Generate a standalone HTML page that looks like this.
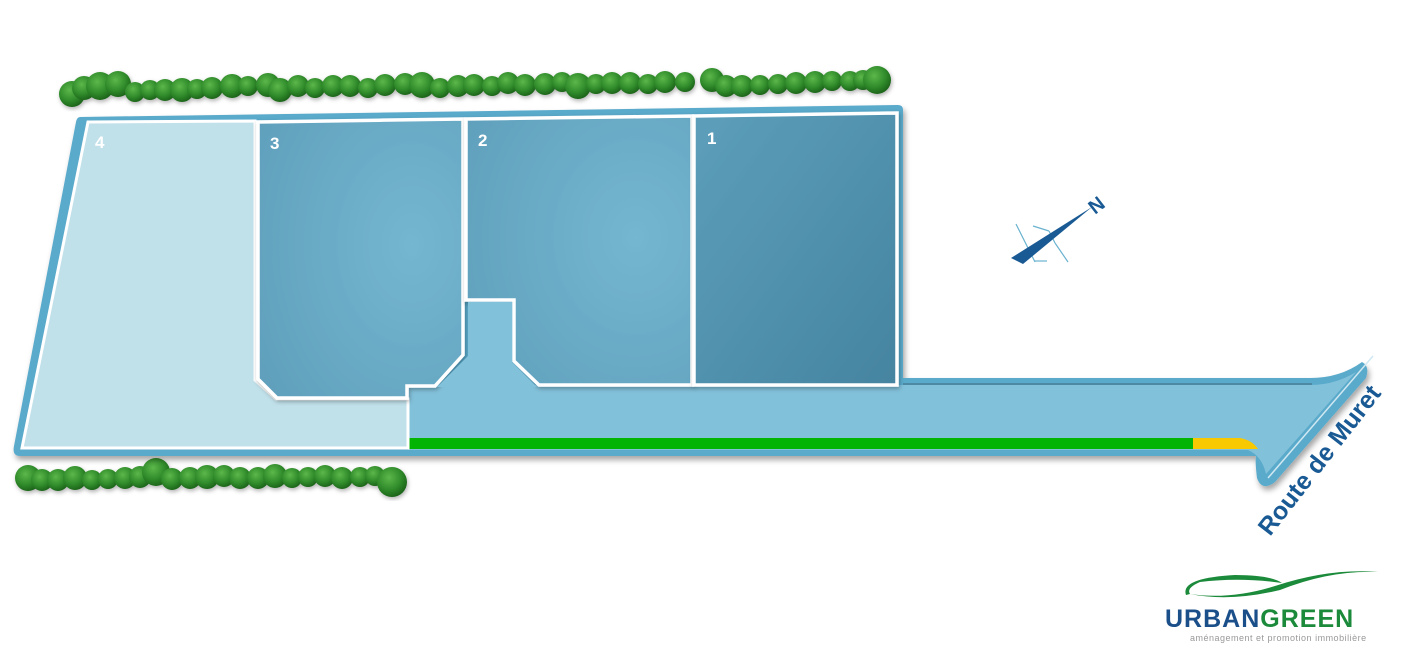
<!DOCTYPE html>
<html><head><meta charset="utf-8"><style>
html,body{margin:0;padding:0;background:#fff;width:1410px;height:652px;overflow:hidden}
svg{display:block}
</style></head><body>
<svg width="1410" height="652" viewBox="0 0 1410 652" xmlns="http://www.w3.org/2000/svg">
<defs>
<radialGradient id="lot" cx="0.75" cy="0.45" r="0.9">
<stop offset="0" stop-color="#74b6d0"/><stop offset="1" stop-color="#5f9fbb"/>
</radialGradient>
<linearGradient id="lot1" x1="0" y1="0" x2="1" y2="1">
<stop offset="0" stop-color="#5d9fbb"/><stop offset="1" stop-color="#4584a0"/>
</linearGradient>
<radialGradient id="tree" cx="0.4" cy="0.35" r="0.7">
<stop offset="0" stop-color="#5cb84a"/><stop offset="0.6" stop-color="#2f8a2a"/><stop offset="1" stop-color="#1a5e18"/>
</radialGradient>
<filter id="sh" x="-5%" y="-5%" width="110%" height="120%"><feDropShadow dx="2" dy="4" stdDeviation="3" flood-color="#000" flood-opacity="0.35"/></filter>
<filter id="ish"><feDropShadow dx="1" dy="2" stdDeviation="2" flood-color="#000" flood-opacity="0.3"/></filter>
</defs>

<!-- trees top -->
<g fill="url(#tree)" filter="url(#ish)">
<circle cx="72" cy="94" r="13"/><circle cx="84" cy="88" r="12"/><circle cx="100" cy="86" r="14"/><circle cx="118" cy="84" r="13"/><circle cx="135" cy="92" r="10"/>
<circle cx="150" cy="90" r="10"/><circle cx="165" cy="90" r="11"/><circle cx="182" cy="90" r="12"/><circle cx="197" cy="89" r="10"/><circle cx="212" cy="88" r="11"/><circle cx="232" cy="86" r="12"/>
<circle cx="248" cy="86" r="10"/><circle cx="268" cy="85" r="12"/><circle cx="280" cy="90" r="12"/><circle cx="298" cy="86" r="11"/><circle cx="315" cy="88" r="10"/>
<circle cx="333" cy="86" r="11"/><circle cx="350" cy="86" r="11"/><circle cx="368" cy="88" r="10"/><circle cx="385" cy="85" r="11"/><circle cx="405" cy="84" r="11"/><circle cx="422" cy="85" r="13"/>
<circle cx="440" cy="88" r="10"/><circle cx="458" cy="86" r="11"/><circle cx="474" cy="85" r="11"/><circle cx="492" cy="86" r="10"/><circle cx="508" cy="83" r="11"/>
<circle cx="525" cy="85" r="11"/><circle cx="545" cy="84" r="11"/><circle cx="562" cy="82" r="10"/><circle cx="578" cy="86" r="13"/><circle cx="596" cy="84" r="10"/>
<circle cx="612" cy="83" r="11"/><circle cx="630" cy="83" r="11"/><circle cx="648" cy="84" r="10"/><circle cx="665" cy="82" r="11"/><circle cx="685" cy="82" r="10"/><circle cx="712" cy="80" r="12"/><circle cx="726" cy="86" r="11"/>
<circle cx="742" cy="86" r="11"/><circle cx="760" cy="85" r="10"/><circle cx="778" cy="84" r="10"/><circle cx="796" cy="83" r="11"/><circle cx="815" cy="82" r="11"/>
<circle cx="832" cy="81" r="10"/><circle cx="850" cy="81" r="10"/><circle cx="863" cy="80" r="10"/><circle cx="877" cy="80" r="14"/>
</g>
<!-- trees bottom -->
<g fill="url(#tree)" filter="url(#ish)">
<circle cx="28" cy="478" r="13"/><circle cx="42" cy="480" r="11"/><circle cx="58" cy="480" r="11"/><circle cx="75" cy="478" r="12"/><circle cx="92" cy="480" r="10"/><circle cx="108" cy="479" r="10"/>
<circle cx="125" cy="478" r="11"/><circle cx="140" cy="477" r="11"/><circle cx="156" cy="472" r="14"/><circle cx="172" cy="479" r="11"/><circle cx="190" cy="478" r="11"/><circle cx="207" cy="477" r="12"/>
<circle cx="224" cy="476" r="11"/><circle cx="240" cy="478" r="11"/><circle cx="258" cy="478" r="11"/><circle cx="275" cy="476" r="12"/><circle cx="292" cy="478" r="10"/><circle cx="308" cy="477" r="10"/>
<circle cx="325" cy="476" r="11"/><circle cx="342" cy="478" r="11"/><circle cx="360" cy="477" r="10"/><circle cx="375" cy="476" r="10"/><circle cx="392" cy="482" r="15"/>
</g>

<!-- outer site with road -->
<path d="M80,117 L898,105 Q903,105 903,110 L903,378 L1310,378 Q1340,378 1362,362 Q1370,366 1366,378 L1275,482 Q1262,492 1257,478 Q1255,462 1256,456 L20,456 Q12,456 14,446 L76,122 Q77,117 80,117 Z" fill="#5aaacb" filter="url(#sh)"/>
<path d="M408,385 L1310,385 Q1335,385 1356,372 L1266,474 Q1262,456 1248,450 L408,450 Z" fill="#82c1da"/>
<line x1="903" y1="384" x2="1312" y2="384" stroke="#4a7e96" stroke-width="1.5"/>
<rect x="408" y="438" width="786" height="11" fill="#04b404"/>
<path d="M1193,438 L1240,438 Q1252,440 1258,449 L1193,449 Z" fill="#f8c800"/>
<line x1="1373" y1="356" x2="1268" y2="478" stroke="#cfe8f2" stroke-width="1.5"/>

<!-- lot 4 -->
<path d="M88,122 L255,121 L255,380 L276,399 L408,399 L408,448 L22,448 Z" fill="#c0e0ea" stroke="#fff" stroke-width="3"/>
<!-- lot 3 -->
<path d="M258,122 L463,119 L463,355 L435,386 L407,386 L407,398 L277,398 L258,379 Z" fill="url(#lot)" stroke="#fff" stroke-width="3.5" filter="url(#ish)"/>
<!-- lot 2 -->
<path d="M466,119 L692,116 L692,385 L539,385 L514,361 L514,300 L466,300 Z" fill="url(#lot)" stroke="#fff" stroke-width="3.5" filter="url(#ish)"/>
<!-- lot 1 -->
<path d="M694,116 L897,113 L897,385 L694,385 Z" fill="url(#lot1)" stroke="#fff" stroke-width="3.5" filter="url(#ish)"/>
<path d="M468,302 L512,302 L512,362 L537,387 L437,387 L468,356 Z" fill="#82c1da"/>

<g font-family="Liberation Sans, sans-serif" font-weight="bold" font-size="17" fill="#fff">
<text x="95" y="148">4</text><text x="270" y="149">3</text><text x="478" y="146">2</text><text x="707" y="144">1</text>
</g>

<!-- compass -->
<g>
<line x1="1016" y1="224" x2="1035" y2="262" stroke="#6ab2d0" stroke-width="1.2"/>
<line x1="1033" y1="226" x2="1049" y2="231" stroke="#6ab2d0" stroke-width="1.2"/>
<line x1="1049" y1="231" x2="1055" y2="243" stroke="#6ab2d0" stroke-width="1.2"/>
<line x1="1055" y1="243" x2="1068" y2="262" stroke="#6ab2d0" stroke-width="1.2"/>
<line x1="1035" y1="261" x2="1047" y2="261" stroke="#6ab2d0" stroke-width="1.2"/>
<path d="M1011,258 L1092,207 L1023,264 Z" fill="#1a5a94"/>
<text x="0" y="0" transform="translate(1095,215) rotate(-38)" font-family="Liberation Sans, sans-serif" font-weight="bold" font-size="20" fill="#1a5a94">N</text>
</g>

<text transform="translate(1270,537) rotate(-52)" font-family="Liberation Sans, sans-serif" font-weight="bold" font-size="25" fill="#1a5a94">Route de Muret</text>

<!-- logo -->
<g>
<path d="M1186,595 Q1180,578 1235,575 Q1270,575 1282,583 Q1240,577 1200,582 Q1186,588 1190,594 Z" fill="#1b8a3a"/>
<path d="M1190,594 Q1230,602 1280,590 Q1330,570 1378,572 Q1330,568 1275,586 Q1230,600 1190,594 Z" fill="#1b8a3a"/>
<text x="1165" y="627" font-family="Liberation Sans, sans-serif" font-weight="bold" font-size="25" fill="#1b4f8a" letter-spacing="1">URBAN<tspan fill="#1b8a3a">GREEN</tspan></text>
<text x="1190" y="641" font-family="Liberation Sans, sans-serif" font-size="9" fill="#999" letter-spacing="0.5">aménagement et promotion immobilière</text>
</g>
</svg>
</body></html>
